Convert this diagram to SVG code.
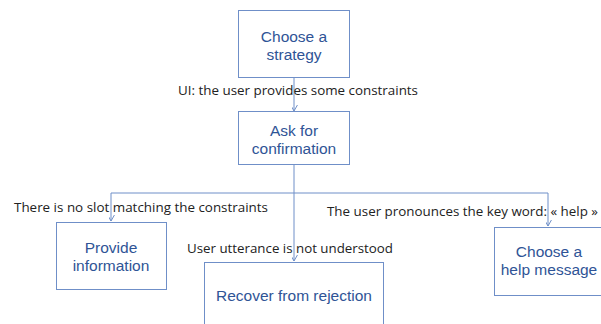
<svg xmlns="http://www.w3.org/2000/svg" width="601" height="324" viewBox="0 0 601 324">
<style>
.box{fill:#fff;stroke:#6f8fc8;stroke-width:1}
.bt{font-family:"Liberation Sans",Arial,sans-serif;font-size:15.5px;fill:#2f5496;text-anchor:middle}
.lbl{font-family:"Open Sans","Liberation Sans",sans-serif;font-size:13.5px;fill:#222}
.con{fill:none;stroke:#6f8fc8;stroke-width:1}
</style>
<defs>
<marker id="arr" viewBox="-6 -8 12 10" refX="0" refY="0" markerWidth="12" markerHeight="10" markerUnits="userSpaceOnUse" orient="auto-start-reverse">
<path d="M-4,-7 L0,0 L4,-7" transform="rotate(-90)" fill="none" stroke="#6f8fc8" stroke-width="1"/>
</marker>
</defs>
<rect width="601" height="324" fill="#fff"/>
<g id="connectors">
<path class="con" d="M294,78 V111" marker-end="url(#arr)"/>
<path class="con" d="M294,165 V261" marker-end="url(#arr)"/>
<path class="con" d="M294,193 H111 V221" marker-end="url(#arr)"/>
<path class="con" d="M294,193 H548 V226" marker-end="url(#arr)"/>
</g>
<g id="labels">
<text class="lbl" x="178" y="95" textLength="240" lengthAdjust="spacingAndGlyphs">UI: the user provides some constraints</text>
<text class="lbl" x="14" y="212" textLength="254" lengthAdjust="spacingAndGlyphs">There is no slot matching the constraints</text>
<text class="lbl" x="187" y="253" textLength="206" lengthAdjust="spacingAndGlyphs">User utterance is not understood</text>
<text class="lbl" x="327" y="216" textLength="271" lengthAdjust="spacingAndGlyphs">The user pronounces the key word: « help »</text>
</g>
<g id="n1">
<rect class="box" x="238.5" y="10.5" width="111" height="67"/>
<text class="bt" x="294" y="42">Choose a</text>
<text class="bt" x="294" y="60">strategy</text>
</g>
<g id="n2">
<rect class="box" x="238.5" y="111.5" width="111" height="53"/>
<text class="bt" x="294" y="135.5">Ask for</text>
<text class="bt" x="294" y="153.5">confirmation</text>
</g>
<g id="n3">
<rect class="box" x="56.5" y="222.5" width="110" height="67"/>
<text class="bt" x="111" y="253">Provide</text>
<text class="bt" x="111" y="271">information</text>
</g>
<g id="n4">
<rect class="box" x="204.5" y="262.5" width="179" height="80"/>
<text class="bt" x="294" y="301">Recover from rejection</text>
</g>
<g id="n5">
<rect class="box" x="494.5" y="227.5" width="120" height="68"/>
<text class="bt" x="549" y="257">Choose a</text>
<text class="bt" x="549" y="275">help message</text>
</g>
</svg>
